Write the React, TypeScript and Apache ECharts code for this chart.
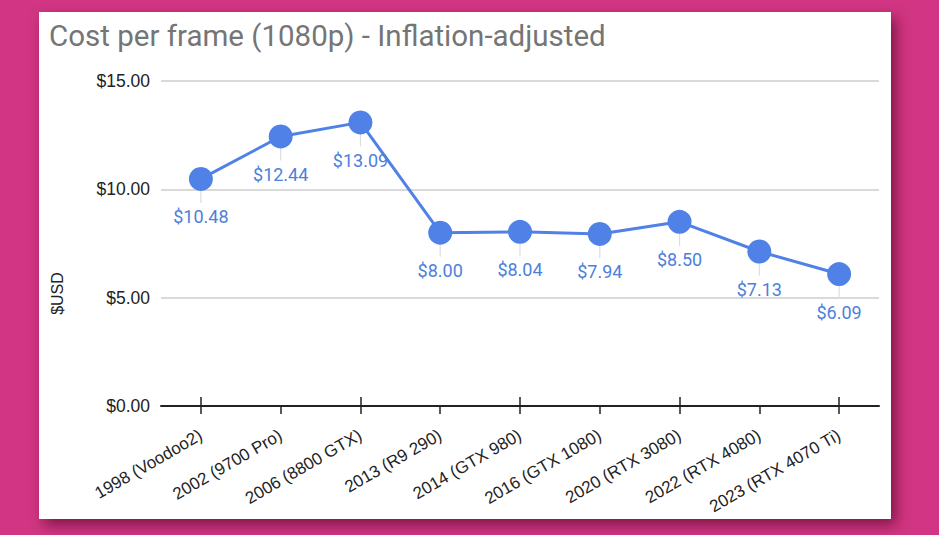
import React, { useEffect, useRef } from "react";
import * as echarts from "echarts";

const categories = [
  "1998 (Voodoo2)",
  "2002 (9700 Pro)",
  "2006 (8800 GTX)",
  "2013 (R9 290)",
  "2014 (GTX 980)",
  "2016 (GTX 1080)",
  "2020 (RTX 3080)",
  "2022 (RTX 4080)",
  "2023 (RTX 4070 Ti)",
];
const costPerFrame = [10.48, 12.44, 13.09, 8.0, 8.04, 7.94, 8.5, 7.13, 6.09];
const yTicks = [0, 5, 10, 15];

const TITLE = "Cost per frame (1080p) - Inflation-adjusted";
const Y_NAME = "$USD";

export default function App() {
  const ref = useRef<HTMLDivElement>(null);

  useEffect(() => {
    if (!ref.current) return;
    const chart = echarts.init(ref.current, undefined, { renderer: "svg" });
    const axisFont = "'Liberation Sans', Arial, sans-serif";
    const roboto = "Roboto, 'Liberation Sans', sans-serif";
    const blue = "#4f81e6";

    chart.setOption({
      animation: false,
      backgroundColor: "#d13583",
      graphic: [
        {
          type: "rect",
          z: -10,
          shape: { x: 39, y: 12, width: 852, height: 507 },
          style: {
            fill: "#ffffff",
            shadowBlur: 14,
            shadowOffsetX: 5,
            shadowOffsetY: 6,
            shadowColor: "rgba(70,0,35,0.6)",
          },
        },
      ],
      title: {
        text: TITLE,
        left: 49,
        top: 21,
        padding: 0,
        textStyle: {
          fontFamily: roboto,
          fontSize: 29.5,
          fontWeight: "normal",
          color: "#757575",
        },
      },
      grid: { left: 161, right: 60, top: 81, bottom: 129, containLabel: false },
      xAxis: [
        {
          type: "category",
          data: categories,
          boundaryGap: true,
          axisLine: { show: true, lineStyle: { color: "#222", width: 2 } },
          axisTick: {
            show: true,
            alignWithLabel: true,
            length: 8,
            lineStyle: { color: "#222", width: 1.5 },
          },
          axisLabel: {
            rotate: 30,
            margin: 28,
            fontSize: 17,
            color: "#222",
            fontFamily: axisFont,
            interval: 0,
          },
          splitLine: { show: false },
        },
        {
          type: "category",
          data: categories,
          position: "bottom",
          boundaryGap: true,
          axisLine: { show: false },
          axisTick: {
            show: true,
            inside: true,
            alignWithLabel: true,
            length: 9,
            lineStyle: { color: "#222", width: 1.5 },
          },
          axisLabel: { show: false },
          splitLine: { show: false },
        },
      ],
      yAxis: {
        type: "value",
        min: yTicks[0],
        max: yTicks[yTicks.length - 1],
        interval: 5,
        name: Y_NAME,
        nameLocation: "middle",
        nameGap: 96,
        nameTextStyle: {
          fontSize: 16,
          color: "#222",
          fontFamily: axisFont,
          padding: [0, 100, 0, 0],
        },
        axisLine: { show: false },
        axisTick: { show: false },
        axisLabel: {
          margin: 11,
          fontSize: 17.5,
          color: "#222",
          fontFamily: axisFont,
          formatter: (v: number) => "$" + v.toFixed(2),
        },
        splitLine: { lineStyle: { color: "#cccccc", width: 1.5 } },
      },
      series: [
        {
          type: "custom",
          z: 1,
          silent: true,
          data: costPerFrame.map((v, i) => [i, v]),
          renderItem: (params: any, api: any) => {
            const p = api.coord([api.value(0), api.value(1)]);
            return {
              type: "line",
              shape: { x1: p[0], y1: p[1] + 10, x2: p[0], y2: p[1] + 24 },
              style: { stroke: "#dddddd", lineWidth: 1.2 },
            };
          },
        },
        {
          type: "line",
          z: 3,
          data: costPerFrame,
          symbol: "circle",
          symbolSize: 24,
          lineStyle: { color: blue, width: 3 },
          itemStyle: { color: blue },
          label: {
            show: true,
            position: "bottom",
            distance: 17,
            fontSize: 18,
            fontFamily: roboto,
            color: "#4d80dc",
            formatter: (p: any) => "$" + Number(p.value).toFixed(2),
          },
        },
      ],
    });

    return () => chart.dispose();
  }, []);

  return (
    <div
      ref={ref}
      style={{ position: "fixed", left: 0, top: 0, width: 939, height: 535 }}
    />
  );
}
